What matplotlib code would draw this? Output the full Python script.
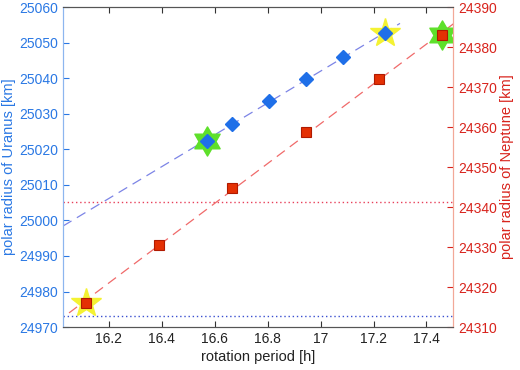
import matplotlib
matplotlib.use("Agg")
import matplotlib.pyplot as plt
from matplotlib.path import Path
import numpy as np

plt.rcParams['font.family'] = ['Liberation Sans', 'DejaVu Sans']

# Uranus (left axis)
per_u = [16.57, 16.666, 16.805, 16.944, 17.084, 17.243]
rad_u = [25022.4, 25027.0, 25033.6, 25039.8, 25045.85, 25052.6]
fit_u_x = [16.026, 17.30]
fit_u_y = [24998.4, 25055.4]
ref_u = 24973.1

# Neptune (right axis)
per_n = [16.112, 16.389, 16.666, 16.944, 17.221, 17.457]
rad_n = [24315.9, 24330.6, 24344.75, 24358.7, 24371.9, 24382.9]
fit_n_x = [16.0, 17.55]
fit_n_y = [24311.1, 24388.2]
ref_n = 24341.2

xticks = [16.2, 16.4, 16.6, 16.8, 17, 17.2, 17.4]
xticklabels = ['16.2', '16.4', '16.6', '16.8', '17', '17.2', '17.4']

blue_txt = '#2a78e4'
red_txt = '#d8231c'

# six-pointed star marker
ang = np.arange(12) * np.pi / 6 + np.pi / 2
rr = np.where(np.arange(12) % 2 == 0, 1.0, 0.58)
verts = np.column_stack([rr * np.cos(ang), rr * np.sin(ang)])
hexagram = Path(np.vstack([verts, verts[:1]]),
                [Path.MOVETO] + [Path.LINETO] * 11 + [Path.CLOSEPOLY])

fig = plt.figure(figsize=(5.2, 3.7), dpi=100)
ax = fig.add_axes([0.121, 0.116, 0.75, 0.865])
ax2 = ax.twinx()

ax.set_xlim(16.026, 17.5)
ax.set_ylim(24970, 25060)
ax2.set_ylim(24310, 24390)

# reference levels
ax.axhline(ref_u, color='#3a4fd0', ls=(0, (1, 2)), lw=1.0)
ax2.axhline(ref_n, color='#e8405a', ls=(0, (1, 2)), lw=1.0)

# fits
ax.plot(fit_u_x, fit_u_y, color='#7c84e6', ls=(0, (8, 5)), lw=0.9)
ax2.plot(fit_n_x, fit_n_y, color='#f06a6a', ls=(0, (8, 5)), lw=0.9)

# highlighted points
ax.plot(per_u[0], rad_u[0], marker=hexagram, ms=21, color='#5ee02a', ls='none')
ax.plot(per_u[-1], rad_u[-1], marker='*', ms=22, color='#f4f232', ls='none')
ax2.plot(per_n[0], rad_n[0], marker='*', ms=22, color='#f4f232', ls='none')
ax2.plot(per_n[-1], rad_n[-1], marker=hexagram, ms=21, color='#5ee02a', ls='none')

ax.plot(per_u, rad_u, 'D', ms=7.5, color='#1f6fe8', mec='#1f6fe8', ls='none')
ax2.plot(per_n, rad_n, 's', ms=7, color='#e43004', mec='#b01a00', mew=0.8, ls='none')

ax.set_xticks(xticks)
ax.set_xticklabels(xticklabels)
ax.set_yticks(np.arange(24970, 25061, 10))
ax2.set_yticks(np.arange(24310, 24391, 10))

ax.tick_params(axis='x', direction='in', top=True, length=4, labelsize=10,
               color='#333333', labelcolor='#222222')
ax.tick_params(axis='y', direction='in', length=4, labelsize=10,
               color=blue_txt, labelcolor=blue_txt)
ax2.tick_params(axis='y', direction='in', length=4, labelsize=10,
                color=red_txt, labelcolor=red_txt)

for a in (ax, ax2):
    a.spines['top'].set_color('#555555')
    a.spines['bottom'].set_color('#555555')
    a.spines['left'].set_color('#8db6ef')
    a.spines['right'].set_color('#f2a898')

ax.set_xlabel('rotation period [h]', fontsize=10.5, color='#222222', labelpad=3)
ax.set_ylabel('polar radius of Uranus [km]', fontsize=10.5, color=blue_txt, labelpad=2)
ax2.set_ylabel('polar radius of Neptune [km]', fontsize=10.5, color=red_txt, labelpad=2)

fig.savefig('out.png', dpi=100)
